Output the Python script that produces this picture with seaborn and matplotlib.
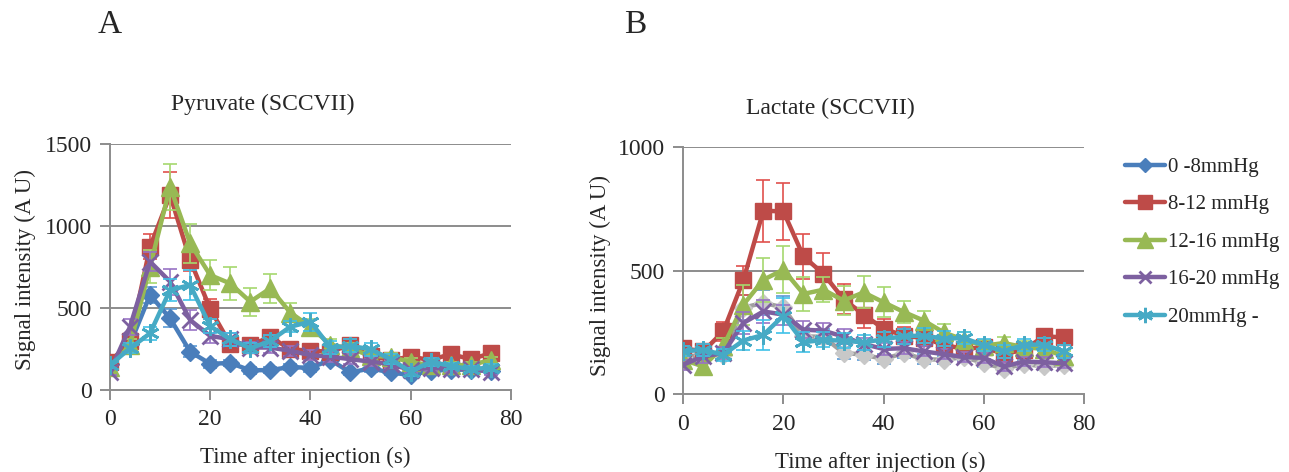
import matplotlib
matplotlib.use("Agg")
import matplotlib.pyplot as plt
from matplotlib.lines import Line2D
import numpy as np
import pandas as pd
import seaborn as sns

time_s = [0, 4, 8, 12, 16, 20, 24, 28, 32, 36, 40, 44, 48, 52, 56, 60, 64, 68, 72, 76]
series_names = ["0 -8mmHg", "8-12 mmHg", "12-16 mmHg", "16-20 mmHg", "20mmHg -"]

# Panel A: pyruvate
pyr_0_8 = [160, 280, 580, 437, 234, 160, 165, 120, 122, 140, 135, 183, 107, 132, 107, 91, 117, 124, 124, 115]
pyr_8_12 = [169, 300, 874, 1190, 793, 495, 280, 275, 323, 249, 239, 234, 275, 208, 183, 203, 183, 219, 188, 224]
pyr_12_16 = [142, 274, 752, 1240, 895, 701, 650, 539, 620, 472, 386, 275, 254, 208, 203, 170, 152, 152, 152, 183]
pyr_16_20 = [112, 386, 783, 661, 427, 330, 310, 259, 259, 239, 213, 203, 188, 173, 158, 122, 137, 129, 127, 112]
pyr_20_up = [152, 254, 346, 610, 640, 390, 310, 254, 300, 386, 417, 259, 269, 249, 188, 112, 173, 147, 127, 137]

pyr_err_0_8 = [15, 30, 50, 55, 35, 25, 20, 20, 20, 20, 25, 20, 15, 20, 15, 15, 15, 15, 15, 15]
pyr_err_8_12 = [20, 40, 75, 140, 70, 60, 40, 35, 35, 30, 30, 30, 35, 30, 25, 25, 25, 25, 25, 25]
pyr_err_12_16 = [20, 40, 100, 140, 120, 90, 100, 85, 90, 60, 45, 35, 35, 30, 25, 25, 20, 20, 20, 20]
pyr_err_16_20 = [20, 50, 60, 80, 60, 45, 40, 35, 35, 30, 30, 30, 30, 25, 25, 20, 20, 20, 20, 20]
pyr_err_20_up = [20, 30, 40, 70, 90, 45, 40, 30, 35, 35, 55, 40, 40, 40, 30, 25, 25, 20, 20, 20]

# Panel B: lactate
lac_0_8 = [150, 160, 160, 350, 370, 351, 234, 232, 167, 160, 142, 166, 142, 139, 150, 126, 103, 122, 112, 119]
lac_8_12 = [186, 173, 254, 461, 743, 740, 558, 487, 385, 322, 265, 237, 227, 200, 183, 190, 162, 180, 234, 230]
lac_12_16 = [139, 112, 193, 362, 463, 504, 406, 423, 379, 412, 372, 333, 298, 250, 220, 196, 207, 190, 183, 153]
lac_16_20 = [119, 153, 166, 288, 335, 322, 261, 257, 233, 203, 183, 186, 173, 162, 150, 147, 112, 132, 129, 125]
lac_20_up = [173, 180, 159, 217, 240, 318, 210, 220, 216, 210, 222, 235, 237, 225, 227, 198, 173, 200, 201, 173]

lac_err_0_8 = [20, 20, 20, 50, 50, 45, 35, 30, 25, 20, 20, 20, 20, 15, 15, 15, 15, 15, 15, 15]
lac_err_8_12 = [20, 25, 40, 60, 125, 115, 90, 85, 60, 55, 40, 35, 30, 30, 25, 25, 25, 25, 25, 25]
lac_err_12_16 = [20, 25, 35, 80, 90, 95, 70, 50, 60, 65, 60, 45, 40, 35, 30, 25, 25, 25, 20, 20]
lac_err_16_20 = [20, 25, 25, 45, 45, 40, 35, 30, 30, 25, 25, 25, 20, 20, 20, 20, 20, 20, 20, 20]
lac_err_20_up = [20, 25, 25, 40, 60, 70, 40, 30, 30, 30, 30, 30, 30, 30, 25, 25, 25, 25, 25, 25]

colors = ["#4A7EBB", "#BE4B48", "#98B954", "#7D60A0", "#46AAC5"]
err_colors = ["#5B9BD5", "#E0504D", "#A6D86E", "#9873C5", "#3FC1E8"]
markers = ["D", "s", "^", "x", (6, 2, 0)]
msizes = [9, 12, 13, 11, 13]

sns.set_style("white")
plt.rcParams["font.family"] = ["Liberation Serif", "DejaVu Serif"]

fig = plt.figure(figsize=(12.89, 4.72), dpi=100)
ax_a = fig.add_axes([0.0853, 0.1737, 0.311, 0.521])
ax_b = fig.add_axes([0.530, 0.165, 0.311, 0.523])


def draw_panel(ax, values, errors, line_colors, marker_faces, ymax, ystep):
    for i, name in enumerate(series_names):
        df = pd.DataFrame({"t": time_s, "v": values[i]})
        ax.errorbar(df["t"], df["v"], yerr=errors[i], fmt="none",
                    ecolor=err_colors[i], elinewidth=1.2, capsize=5, capthick=1.2, zorder=2 + i)
        sns.lineplot(data=df, x="t", y="v", ax=ax, color=line_colors[i], lw=3.2,
                     marker=markers[i], markersize=msizes[i], markerfacecolor=marker_faces[i],
                     markeredgecolor=marker_faces[i], markeredgewidth=2 if i >= 3 else 1,
                     zorder=2.5 + i, legend=False)
    ax.set_xlim(0, 80)
    ax.set_ylim(0, ymax)
    ax.set_xticks(np.arange(0, 81, 20))
    ax.set_yticks(np.arange(0, ymax + 1, ystep))
    ax.set_xlabel("")
    ax.set_ylabel("")
    for y in np.arange(ystep, ymax + 1, ystep):
        ax.axhline(y, color="#8C8C8C", lw=1.4, zorder=1)
    for side in ["top", "right"]:
        ax.spines[side].set_visible(False)
    for side in ["left", "bottom"]:
        ax.spines[side].set_color("#8C8C8C")
        ax.spines[side].set_linewidth(1.4)
    ax.tick_params(axis="both", length=7, width=1.4, color="#8C8C8C",
                   labelsize=17, direction="out", left=True, bottom=True)
    ax.tick_params(axis="x", pad=7)
    ax.tick_params(axis="y", pad=6)


draw_panel(ax_a,
           [pyr_0_8, pyr_8_12, pyr_12_16, pyr_16_20, pyr_20_up],
           [pyr_err_0_8, pyr_err_8_12, pyr_err_12_16, pyr_err_16_20, pyr_err_20_up],
           colors, colors, 1500, 500)
draw_panel(ax_b,
           [lac_0_8, lac_8_12, lac_12_16, lac_16_20, lac_20_up],
           [lac_err_0_8, lac_err_8_12, lac_err_12_16, lac_err_16_20, lac_err_20_up],
           ["#A0A0A0"] + colors[1:], ["#C8C8C8"] + colors[1:], 1000, 500)

fig.text(110 / 1289, 1 - 25 / 472, "A", fontsize=24, ha="center", va="center")
fig.text(635 / 1289, 1 - 25 / 472, "B", fontsize=24, ha="center", va="center")
fig.text(263 / 1289, 1 - 104 / 472, "Pyruvate (SCCVII)", fontsize=17, ha="center", va="center")
fig.text(830 / 1289, 1 - 108 / 472, "Lactate (SCCVII)", fontsize=17, ha="center", va="center")
fig.text(25 / 1289, 1 - 270 / 472, "Signal intensity (A U)", fontsize=16.5, rotation=90,
         ha="center", va="center")
fig.text(600 / 1289, 1 - 275 / 472, "Signal intensity (A U)", fontsize=16.5, rotation=90,
         ha="center", va="center")
fig.text(305 / 1289, 1 - 457 / 472, "Time after injection (s)", fontsize=16.5, ha="center", va="center")
fig.text(880 / 1289, 1 - 462 / 472, "Time after injection (s)", fontsize=16.5, ha="center", va="center")

handles = [Line2D([], [], color=colors[i], lw=3.2, marker=markers[i],
                  markersize=msizes[i] - 2, markeredgewidth=2 if i >= 3 else 1)
           for i in range(len(series_names))]
fig.legend(handles, series_names, loc="upper left", bbox_to_anchor=(1117 / 1289, 1 - 149 / 472),
           frameon=False, fontsize=15, handlelength=1.9, handletextpad=0.15, labelspacing=0.86,
           borderaxespad=0)

fig.savefig("out.png", dpi=100)
